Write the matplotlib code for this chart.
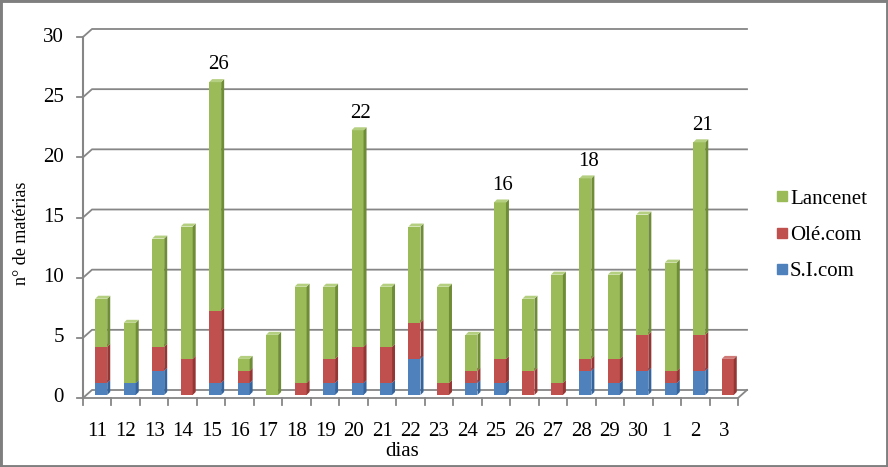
import matplotlib
matplotlib.use('Agg')
import matplotlib.pyplot as plt
from matplotlib.lines import Line2D
from matplotlib.patches import Polygon, Rectangle

# --- 1. Data ---
dias = ['11', '12', '13', '14', '15', '16', '17', '18', '19', '20', '21', '22',
        '23', '24', '25', '26', '27', '28', '29', '30', '1', '2', '3']
si_com = [1, 1, 2, 0, 1, 1, 0, 0, 1, 1, 1, 3, 0, 1, 1, 0, 0, 2, 1, 2, 1, 2, 0]
ole_com = [3, 0, 2, 3, 6, 1, 0, 1, 2, 3, 3, 3, 1, 1, 2, 2, 1, 1, 2, 3, 1, 3, 3]
lancenet = [4, 5, 9, 11, 19, 1, 5, 8, 6, 18, 5, 8, 8, 3, 13, 6, 9, 15, 7, 10, 9, 16, 0]
labelled_days = ['15', '20', '25', '28', '2']
y_ticks = [0, 5, 10, 15, 20, 25, 30]

series = [('S.I.com', si_com, '#4F81BD', '#35649C', '#7A9FD0'),
          ('Olé.com', ole_com, '#C0504D', '#943634', '#D07A78'),
          ('Lancenet', lancenet, '#9BBB59', '#6F8C36', '#B5CF80')]

# --- 2. Figure / axes geometry (pixels at 100 dpi) ---
W, H = 888, 467
x0_px, x1_px = 83, 738      # front floor left / right
y0_px, y30_px = 398, 37     # value 0 and 30 on the front plane
n = len(dias)

fig = plt.figure(figsize=(W / 100, H / 100), dpi=100)
ax = fig.add_axes([x0_px / W, (H - y0_px) / H, (x1_px - x0_px) / W, (y0_px - y30_px) / H])
ax.set_xlim(0, n)
ax.set_ylim(0, 30)
ax.axis('off')

ux = (x1_px - x0_px) / n    # px per category
uy = (y0_px - y30_px) / 30  # px per unit

def px(dx, dy):
    return dx / ux, dy / uy

grey = '#868686'
font = 'Liberation Serif'
fs = 15
back_dx, back_dy = px(9, 8)

# --- 3. Back wall gridlines and floor ---
for v in y_ticks:
    ax.plot([0, back_dx, n + back_dx], [v, v + back_dy, v + back_dy], color=grey, lw=1.3, clip_on=False, zorder=1)
    tx, _ = px(6, 0)
    ax.plot([-tx, 0], [v, v], color=grey, lw=1.3, clip_on=False)
    ax.text(-px(19, 0)[0], v, str(v), ha='right', va='center', fontsize=fs, family=font)
ax.plot([0, 0], [0, 30], color=grey, lw=1.5, clip_on=False, zorder=1)
ax.plot([0, n, n + back_dx], [0, 0, back_dy], color=grey, lw=1.3, clip_on=False, zorder=1)
tick_len = px(0, 7)[1]
for i in range(n + 1):
    ax.plot([i, i], [0, -tick_len], color=grey, lw=1.3, clip_on=False)
for i, d in enumerate(dias):
    ax.text(i + 0.5, -px(0, 33)[1], d, ha='center', va='center', fontsize=fs, family=font)

# --- 4. 3D-looking stacked bars ---
bar_w = 12 / ux
off_x, off_y = px(4, 3)
dep_x, dep_y = px(3, 3)
bottoms = [0] * n
for name, vals, c_front, c_side, c_top in series:
    xs = [i + 0.5 + off_x for i in range(n)]
    ax.bar(xs, vals, width=bar_w, bottom=[b + off_y for b in bottoms], color=c_front,
           edgecolor='none', zorder=3)
    for i, v in enumerate(vals):
        if v == 0:
            continue
        xr = xs[i] + bar_w / 2
        xl = xs[i] - bar_w / 2
        b = bottoms[i] + off_y
        t = b + v
        ax.add_patch(Polygon([(xr, b), (xr + dep_x, b + dep_y), (xr + dep_x, t + dep_y), (xr, t)],
                             closed=True, facecolor=c_side, edgecolor='none', zorder=3))
        ax.add_patch(Polygon([(xl, t), (xl + dep_x, t + dep_y), (xr + dep_x, t + dep_y), (xr, t)],
                             closed=True, facecolor=c_top, edgecolor='none', zorder=3))
    bottoms = [b + v for b, v in zip(bottoms, vals)]

# totals above the selected bars
for i, d in enumerate(dias):
    if d in labelled_days:
        ax.annotate(str(bottoms[i]), (i + 0.5, bottoms[i]), xytext=(5, 14.5),
                    textcoords='offset points', ha='center', va='center', fontsize=fs, family=font)

# --- 5. Labels, legend, frame ---
fig.text(402 / W, 1 - 451 / H, 'dias', ha='center', va='center', fontsize=fs, family=font)
fig.text(22 / W, 1 - 233 / H, 'n° de matérias', ha='center', va='center', rotation=90,
         fontsize=13, family=font)

handles = [Line2D([], [], marker='s', ls='none', markersize=6.5, color=c, markeredgecolor=c)
           for _, _, c, _, _ in series[::-1]]
labels = [s[0] for s in series[::-1]]
fig.legend(handles, labels, loc='center left', bbox_to_anchor=(766 / W, 1 - 235 / H),
           frameon=False, prop={'family': font, 'size': fs}, handlelength=0.5,
           handletextpad=0.15, labelspacing=0.8, borderpad=0)

fig.patches.append(Rectangle((0, 0), 1, 1, transform=fig.transFigure, fill=False,
                             edgecolor='#7F7F7F', lw=3.5))

plt.savefig('out.png', dpi=100)
